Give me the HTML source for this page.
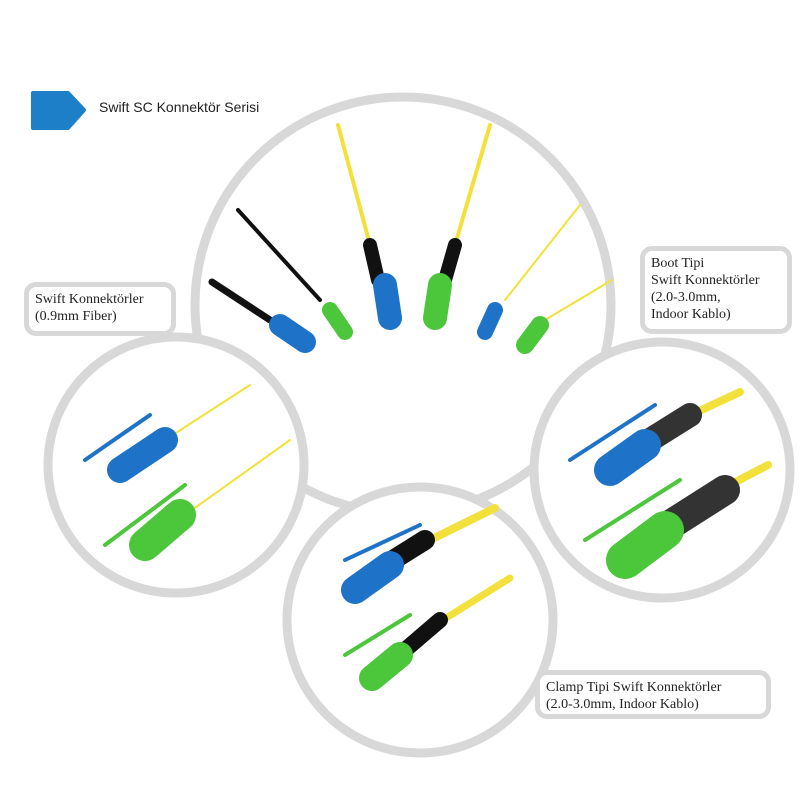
<!DOCTYPE html><html><head><style>
body{margin:0;width:800px;height:800px;background:#fff;overflow:hidden;position:relative;font-family:"Liberation Serif",serif}
.lab{position:absolute;background:#fff;border:5px solid #d8d8d8;border-radius:12px;font-size:14px;line-height:17px;color:#222;padding:4px 6px;box-sizing:border-box}
</style></head><body>
<svg width="800" height="800" style="position:absolute;left:0;top:0">
<g fill="#fff" stroke="#d8d8d8" stroke-width="9">
<circle cx="403" cy="305" r="208"/>
<circle cx="176" cy="465" r="128"/>
<circle cx="662" cy="470" r="128"/>
<circle cx="420" cy="620" r="133"/>
</g>
<path d="M33 93 H68 L84 110 L68 128 H33 Z" fill="#1c7fc8" stroke="#1c7fc8" stroke-width="4" stroke-linejoin="round"/>
<!-- top circle connectors -->
<g stroke-linecap="round">
<line x1="212" y1="282" x2="270" y2="320" stroke="#111" stroke-width="7"/>
<line x1="238" y1="210" x2="320" y2="300" stroke="#111" stroke-width="4"/>
<line x1="338" y1="125" x2="370" y2="245" stroke="#f3e03a" stroke-width="4"/>
<line x1="490" y1="125" x2="455" y2="245" stroke="#f3e03a" stroke-width="4"/>
<line x1="580" y1="205" x2="505" y2="300" stroke="#f3e03a" stroke-width="2"/>
<line x1="612" y1="280" x2="545" y2="320" stroke="#f3e03a" stroke-width="2"/>
<line x1="370" y1="245" x2="378" y2="280" stroke="#111" stroke-width="14"/>
<line x1="455" y1="245" x2="445" y2="280" stroke="#111" stroke-width="14"/>
<line x1="280" y1="325" x2="305" y2="342" stroke="#1e73c8" stroke-width="22"/>
<line x1="330" y1="310" x2="345" y2="332" stroke="#4cc63a" stroke-width="16"/>
<line x1="385" y1="285" x2="390" y2="318" stroke="#1e73c8" stroke-width="24"/>
<line x1="440" y1="285" x2="435" y2="318" stroke="#4cc63a" stroke-width="24"/>
<line x1="495" y1="310" x2="485" y2="332" stroke="#1e73c8" stroke-width="16"/>
<line x1="540" y1="325" x2="525" y2="345" stroke="#4cc63a" stroke-width="18"/>
<!-- left circle -->
<line x1="250" y1="385" x2="165" y2="440" stroke="#f3e03a" stroke-width="2"/>
<line x1="290" y1="440" x2="185" y2="515" stroke="#f3e03a" stroke-width="2"/>
<line x1="150" y1="415" x2="85" y2="460" stroke="#1e73c8" stroke-width="4"/>
<line x1="185" y1="485" x2="105" y2="545" stroke="#4cc63a" stroke-width="4"/>
<line x1="165" y1="440" x2="120" y2="470" stroke="#1e73c8" stroke-width="26"/>
<line x1="180" y1="515" x2="145" y2="545" stroke="#4cc63a" stroke-width="32"/>
<!-- bottom circle -->
<line x1="495" y1="508" x2="420" y2="545" stroke="#f3e03a" stroke-width="8"/>
<line x1="510" y1="578" x2="435" y2="625" stroke="#f3e03a" stroke-width="7"/>
<line x1="425" y1="540" x2="385" y2="565" stroke="#111" stroke-width="20"/>
<line x1="440" y1="620" x2="405" y2="650" stroke="#111" stroke-width="16"/>
<line x1="420" y1="525" x2="345" y2="560" stroke="#1e73c8" stroke-width="4"/>
<line x1="410" y1="615" x2="345" y2="655" stroke="#4cc63a" stroke-width="4"/>
<line x1="390" y1="565" x2="355" y2="590" stroke="#1e73c8" stroke-width="28"/>
<line x1="400" y1="655" x2="372" y2="678" stroke="#4cc63a" stroke-width="26"/>
<!-- right circle -->
<line x1="740" y1="392" x2="680" y2="420" stroke="#f3e03a" stroke-width="8"/>
<line x1="768" y1="465" x2="720" y2="490" stroke="#f3e03a" stroke-width="8"/>
<line x1="690" y1="415" x2="650" y2="440" stroke="#333" stroke-width="24"/>
<line x1="725" y1="490" x2="670" y2="525" stroke="#333" stroke-width="30"/>
<line x1="655" y1="405" x2="570" y2="460" stroke="#1e73c8" stroke-width="4"/>
<line x1="680" y1="480" x2="585" y2="540" stroke="#4cc63a" stroke-width="4"/>
<line x1="645" y1="445" x2="610" y2="470" stroke="#1e73c8" stroke-width="32"/>
<line x1="665" y1="530" x2="625" y2="560" stroke="#4cc63a" stroke-width="38"/>
</g>
</svg>
<div style="position:absolute;left:99px;top:99px;font:14px 'Liberation Sans',sans-serif;color:#222">Swift SC Konnektör Serisi</div>
<div class="lab" style="left:24px;top:282px;width:152px;height:54px">Swift Konnektörler<br>(0.9mm Fiber)</div>
<div class="lab" style="left:640px;top:246px;width:152px;height:88px">Boot Tipi<br>Swift Konnektörler<br>(2.0-3.0mm,<br>Indoor Kablo)</div>
<div class="lab" style="left:535px;top:670px;width:236px;height:49px">Clamp Tipi Swift Konnektörler<br>(2.0-3.0mm, Indoor Kablo)</div>
</body></html>
